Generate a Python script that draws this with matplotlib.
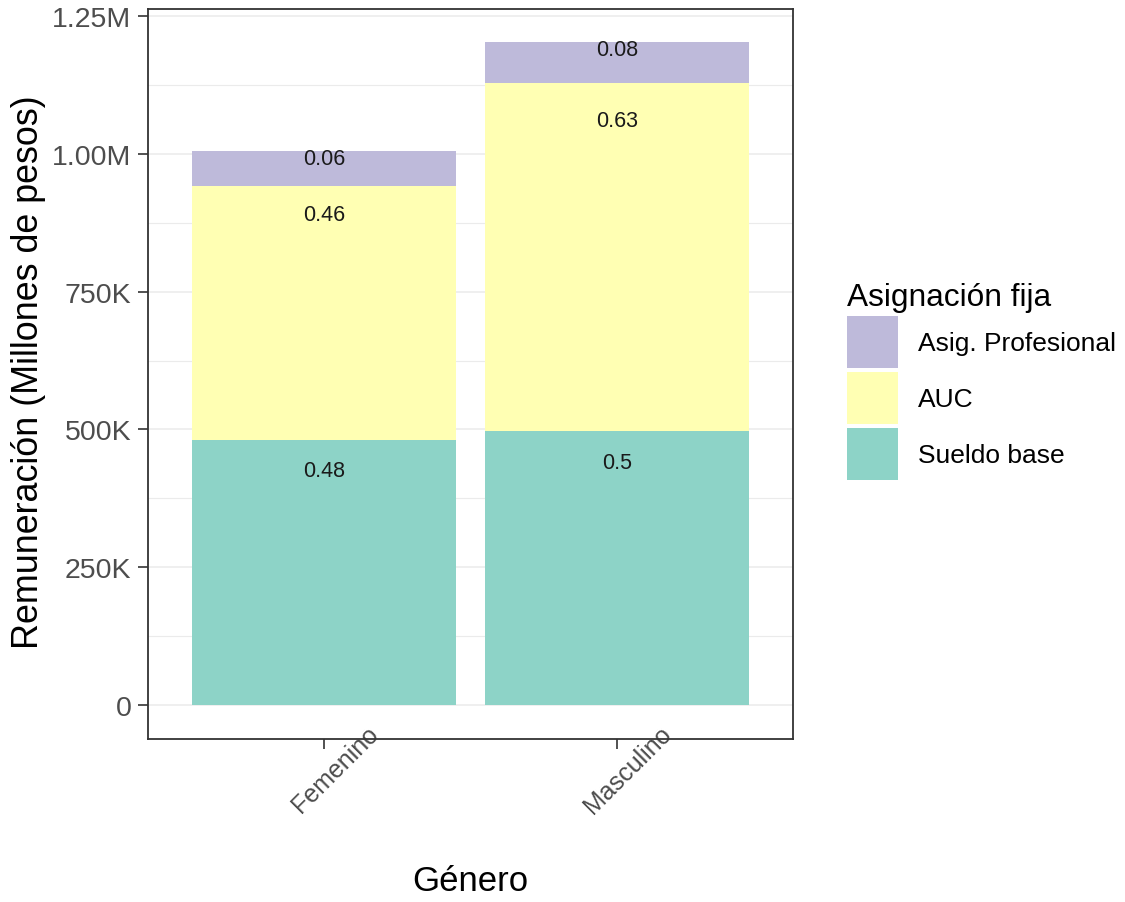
import matplotlib
matplotlib.use("Agg")
import matplotlib.pyplot as plt
import matplotlib.transforms as mtransforms
from matplotlib.ticker import FixedLocator, FuncFormatter
from matplotlib.patches import Patch
import numpy as np

plt.rcParams['font.family'] = ['Liberation Sans', 'DejaVu Sans']

# ---- data ----
generos = ["Femenino", "Masculino"]
sueldo_base = [481000, 497000]
auc = [461000, 632000]
asig_profesional = [63000, 74000]
labels_sueldo = ["0.48", "0.5"]
labels_auc = ["0.46", "0.63"]
labels_asig = ["0.06", "0.08"]

componentes = ["Sueldo base", "AUC", "Asig. Profesional"]
colores = {"Sueldo base": "#8DD3C7", "AUC": "#FFFFB3", "Asig. Profesional": "#BEBADA"}
# vertical label offsets below the segment top (pixels), per component & gender
label_offsets = {"Sueldo base": [31, 31], "AUC": [29, 38], "Asig. Profesional": [7, 7]}

fig = plt.figure(figsize=(11.25, 9.03), dpi=100)
ax = fig.add_axes([148/1125, 1 - 740/903, (793-148)/1125, (740-10)/903])

x = np.arange(len(generos))
series = {"Sueldo base": sueldo_base, "AUC": auc, "Asig. Profesional": asig_profesional}
labs = {"Sueldo base": labels_sueldo, "AUC": labels_auc, "Asig. Profesional": labels_asig}
bottom = np.zeros(len(generos))
for comp in componentes:
    vals = np.array(series[comp], dtype=float)
    ax.bar(x, vals, bottom=bottom, width=0.9, color=colores[comp], zorder=2, linewidth=0)
    tops = bottom + vals
    for i in range(len(generos)):
        off = mtransforms.offset_copy(ax.transData, fig=fig, x=0,
                                      y=-label_offsets[comp][i] * 72 / 100, units='points')
        ax.text(x[i], tops[i], labs[comp][i], transform=off, ha='center', va='center',
                fontsize=15.5, color='#1a1a1a', zorder=3)
    bottom = tops

ax.set_xlim(-0.6, 1.6)
ax.set_ylim(-61700, 1263000)

major = [0, 250000, 500000, 750000, 1000000, 1250000]
minor = [125000, 375000, 625000, 875000, 1125000]
ax.yaxis.set_major_locator(FixedLocator(major))
ax.yaxis.set_minor_locator(FixedLocator(minor))

def fmt(v, pos):
    if v == 0:
        return "0"
    if v >= 1e6:
        return f"{v/1e6:.2f}M"
    return f"{int(v/1e3)}K"
ax.yaxis.set_major_formatter(FuncFormatter(fmt))

ax.grid(True, which='major', axis='y', color='#EBEBEB', linewidth=1.1, zorder=0)
ax.grid(True, which='minor', axis='y', color='#EBEBEB', linewidth=0.8, zorder=0)
ax.set_axisbelow(True)
ax.tick_params(axis='y', which='minor', length=0)
ax.tick_params(axis='both', which='major', length=7, width=1.2, color='#333333',
               labelcolor='#4D4D4D')
ax.tick_params(axis='y', which='major', labelsize=20.5, pad=5)

ax.set_xticks(x)
ax.set_xticklabels(generos, rotation=45, ha='center', va='center')
ax.tick_params(axis='x', labelsize=18, pad=14.5)
for lbl in ax.get_xticklabels():
    lbl.set_transform(lbl.get_transform() + mtransforms.ScaledTranslation(11/100, 0, fig.dpi_scale_trans))

for sp in ax.spines.values():
    sp.set_color('#333333')
    sp.set_linewidth(1.3)

fig.text(29/1125, 1 - 372/903, "Remuneración (Millones de pesos)", rotation=90,
         ha='center', va='center', fontsize=25.8, color='black')
fig.text(470/1125, 1 - 882/903, "Género", ha='center', va='center', fontsize=25, color='black')

handles = [Patch(facecolor=colores[c], edgecolor='none', label=c) for c in reversed(componentes)]
leg = fig.legend(handles=handles, title="Asignación fija", loc='upper left',
                 bbox_to_anchor=(826/1125, 1 - 262/903), frameon=False,
                 fontsize=19, title_fontsize=22.8, handlelength=1.93, handleheight=2.63,
                 labelspacing=0.16, handletextpad=0.76, alignment='left', borderpad=0.3)

fig.savefig("out.png", dpi=100)
